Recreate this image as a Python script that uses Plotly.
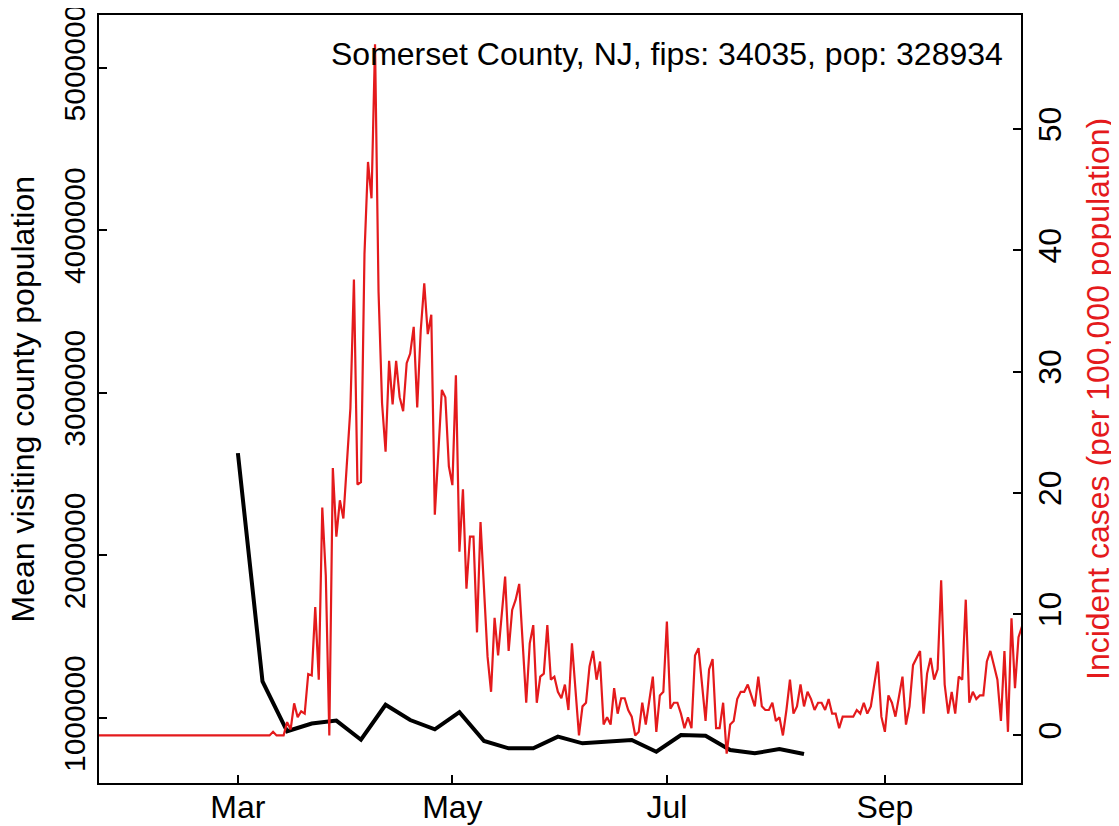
import pandas as pd
import plotly.graph_objects as go

# ---------------- data ----------------
# Mean visiting county population (weekly, starting 2020-03-01)
black_start = "2020-03-01"
black_values = [2629000, 1226000, 919000, 967000, 985000, 867000, 1082000, 988000,
                931000, 1037000, 859000, 814000, 814000, 886000, 845000, 855000,
                865000, 793000, 896000, 892000, 804000, 784000, 810000, 779000]

# Incident cases per 100,000 (daily, starting 2020-01-21)
red_start = "2020-01-21"
red_zeros_before = [0.0] * 50
red_values = red_zeros_before + [
    0.3, 0, 0, 0,
    1.1, 0.5, 2.65, 1.5, 2.0, 1.8, 5.07, 4.95, 10.6, 4.6,
    18.8, 13.2, 0, 22.05, 16.4, 19.4, 17.9, 22.5, 27.0, 37.6,
    20.7, 20.9, 39.7, 47.3, 44.3, 57.0, 36.6, 27.4, 23.4, 30.9,
    27.3, 30.9, 27.9, 26.75, 30.7, 31.5, 33.7, 27.05, 33.4, 37.3,
    33.1, 34.7, 18.2, 23.3, 28.5, 27.9, 22.2, 20.65, 29.7, 15.15,
    20.3, 12.1, 16.4, 16.4, 8.5, 17.6, 11.7, 6.5, 3.6, 9.7,
    6.6, 9.66, 13.1, 6.97, 10.35, 11.2, 12.5, 7.6, 2.7, 7.6,
    9.1, 2.7, 4.85, 5.1, 9.1, 4.6, 4.85, 3.6, 3.07, 4.2,
    2.1, 7.6, 3.75, 0, 2.4, 2.7, 5.7, 6.97, 4.6, 6.1,
    0.9, 1.5, 0.9, 3.9, 1.8, 3.07, 3.07, 2.1, 1.55, 0.0,
    0.3, 2.7, 0.9, 3.07, 4.85, 0.3, 3.3, 3.6, 9.4, 2.2,
    2.7, 2.7, 1.8, 0.6, 1.5, 0.6, 6.6, 7.2, 4.3, 1.2,
    5.45, 6.3, 0.6, 0.6, 2.7, -1.5, 0.9, 1.2, 3.0, 3.6,
    3.6, 4.2, 3.3, 2.4, 4.85, 2.4, 2.1, 2.1, 2.7, 1.2,
    1.5, 0, 2.1, 4.6, 1.8, 2.4, 4.2, 2.4, 3.6, 3.0,
    2.1, 2.7, 2.7, 2.1, 3.0, 1.8, 1.8, 0.6, 1.55, 1.55,
    1.55, 1.55, 2.1, 1.8, 2.7, 1.8, 2.4, 4.2, 6.1, 1.55,
    0.3, 3.3, 2.7, 1.55, 3.3, 4.85, 0.9, 2.4, 5.8, 6.4,
    6.97, 1.8, 5.1, 6.4, 4.6, 5.45, 12.8, 4.2, 1.8, 3.6,
    1.8, 4.85, 4.6, 11.2, 2.7, 3.6, 3.0, 3.3, 3.3, 6.1,
    6.97, 5.8, 4.6, 1.2, 6.97, 0.3, 9.66, 3.9, 8.1, 9.0,
]

x_tick_dates = ["2020-03-01", "2020-05-01", "2020-07-01", "2020-09-01"]
x_tick_labels = ["Mar", "May", "Jul", "Sep"]
left_tick_vals = [1000000, 2000000, 3000000, 4000000, 5000000]
left_tick_labels = ["1000000", "2000000", "3000000", "4000000", "5000000"]
right_tick_vals = [0, 10, 20, 30, 40, 50]
right_tick_labels = ["0", "10", "20", "30", "40", "50"]

title_text = "Somerset County, NJ, fips: 34035, pop: 328934"
left_title = "Mean visiting county population"
right_title = "Incident cases (per 100,000 population)"

# ---------------- figure ----------------
black_dates = pd.date_range(black_start, periods=len(black_values), freq="7D")
red_dates = pd.date_range(red_start, periods=len(red_values), freq="D")

RED = "#E41A1C"
FONT = "Liberation Sans, Arial, Helvetica, sans-serif"
FS = 32

fig = go.Figure()
fig.add_trace(go.Scatter(x=red_dates, y=red_values, mode="lines",
                         line=dict(color=RED, width=2.2), yaxis="y2",
                         showlegend=False, hoverinfo="skip"))
fig.add_trace(go.Scatter(x=black_dates, y=black_values, mode="lines",
                         line=dict(color="black", width=4), yaxis="y",
                         showlegend=False, hoverinfo="skip"))

axis_common = dict(showgrid=False, zeroline=False, ticks="inside", ticklen=8,
                   tickwidth=2, tickcolor="black", linecolor="black", linewidth=2,
                   showline=True, automargin=False, ticklabeloverflow="allow")

fig.update_layout(
    width=1111, height=818,
    margin=dict(l=91, r=98, t=7, b=43, autoexpand=False),
    paper_bgcolor="white", plot_bgcolor="white",
    font=dict(family=FONT, size=FS, color="black"),
    xaxis=dict(type="date", range=["2020-01-21 12:00", "2020-10-09 17:00"],
               tickvals=x_tick_dates, ticktext=x_tick_labels, mirror=True,
               ticklabelstandoff=-5,
               tickfont=dict(family=FONT, size=FS, color="black"),
               **axis_common),
    yaxis=dict(range=[601000, 5323000], tickvals=left_tick_vals,
               ticktext=left_tick_labels, tickangle=-90, side="left",
               tickfont=dict(family=FONT, size=30, color="black"),
               **axis_common),
    yaxis2=dict(range=[-3.92, 59.42], tickvals=right_tick_vals,
                ticktext=right_tick_labels, tickangle=-90, side="right",
                overlaying="y",
                tickfont=dict(family=FONT, size=FS, color="black"),
                **axis_common),
    annotations=[
        dict(text=title_text, xref="paper", yref="paper", x=0.983, y=0.949,
             xanchor="right", yanchor="middle", showarrow=False,
             font=dict(family=FONT, size=FS, color="black")),
        dict(text=left_title, xref="paper", yref="paper", x=-0.0819, y=0.5,
             xanchor="center", yanchor="middle", textangle=-90, showarrow=False,
             font=dict(family=FONT, size=FS, color="black")),
        dict(text=right_title, xref="paper", yref="paper", x=1.0835, y=0.5,
             xanchor="center", yanchor="middle", textangle=-90, showarrow=False,
             font=dict(family=FONT, size=FS, color=RED)),
    ],
)

fig.write_html("out.html")
